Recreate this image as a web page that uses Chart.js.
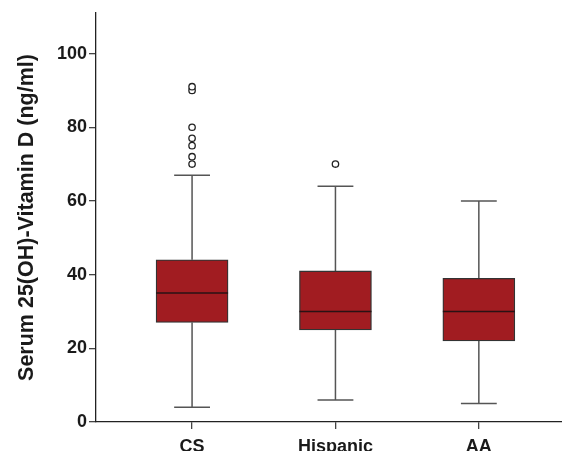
<!DOCTYPE html>
<html>
<head>
<meta charset="utf-8">
<script src="https://cdn.jsdelivr.net/npm/chart.js@4/dist/chart.umd.min.js"></script>
<style>
  html, body { margin: 0; padding: 0; background: #fff; overflow: hidden; }
  #box { display: block; }
</style>
</head>
<body>
<canvas id="box" width="562" height="451"></canvas>
<script>
/* ---------- data (ng/ml) ---------- */
var groups   = ['CS', 'Hispanic', 'AA'];
var whiskLo  = [4, 6, 5];
var q1       = [27, 25, 22];
var medians  = [35, 30, 30];
var q3       = [44, 41, 39];
var whiskHi  = [67, 64, 60];
var outliers = [
  [70, 72, 75, 77, 80, 90, 91],
  [70],
  []
];
var yTicks = [0, 20, 40, 60, 80, 100];

var BOX_FILL = '#a11c21';
var FONT = "'Liberation Sans', Arial, sans-serif";

/* groups sit at x = 1, 2, 3 on a linear axis */
var boxData = groups.map(function (g, i) { return { x: i + 1, y: [q1[i], q3[i]] }; });
var outData = [];
outliers.forEach(function (list, i) {
  list.forEach(function (v) { outData.push({ x: i + 1, y: v }); });
});

/* whiskers behind the boxes, medians on top */
var boxExtras = {
  id: 'boxExtras',
  beforeDatasetsDraw: function (chart) {
    var ctx = chart.ctx, xs = chart.scales.x, ys = chart.scales.y;
    ctx.save();
    ctx.strokeStyle = '#555';
    ctx.lineWidth = 1.5;
    groups.forEach(function (g, i) {
      var cx = xs.getPixelForValue(i + 1);
      var l = xs.getPixelForValue(i + 1 - 0.125), r = xs.getPixelForValue(i + 1 + 0.125);
      var lo = ys.getPixelForValue(whiskLo[i]), hi = ys.getPixelForValue(whiskHi[i]);
      ctx.beginPath();
      ctx.moveTo(cx, lo); ctx.lineTo(cx, ys.getPixelForValue(q1[i]));
      ctx.moveTo(cx, ys.getPixelForValue(q3[i])); ctx.lineTo(cx, hi);
      ctx.moveTo(l, lo); ctx.lineTo(r, lo);
      ctx.moveTo(l, hi); ctx.lineTo(r, hi);
      ctx.stroke();
    });
    ctx.restore();
  },
  afterDatasetsDraw: function (chart) {
    var ctx = chart.ctx, ys = chart.scales.y;
    var meta = chart.getDatasetMeta(0);
    ctx.save();
    ctx.strokeStyle = '#2a1214';
    ctx.lineWidth = 1.5;
    meta.data.forEach(function (bar, i) {
      var y = ys.getPixelForValue(medians[i]);
      ctx.beginPath();
      ctx.moveTo(bar.x - bar.width / 2, y);
      ctx.lineTo(bar.x + bar.width / 2, y);
      ctx.stroke();
    });
    ctx.restore();
  }
};

new Chart(document.getElementById('box'), {
  type: 'bar',
  data: {
    datasets: [{
      label: 'IQR',
      data: boxData,
      backgroundColor: BOX_FILL,
      borderColor: '#333',
      borderWidth: 1.3,
      borderSkipped: false,
      barThickness: 72
    }, {
      type: 'scatter',
      label: 'outliers',
      data: outData,
      pointRadius: 3.2,
      pointBorderWidth: 1.3,
      pointBackgroundColor: '#fff',
      pointBorderColor: '#222'
    }]
  },
  options: {
    responsive: false,
    animation: false,
    devicePixelRatio: 1,
    layout: { autoPadding: false, padding: { top: 13, right: 0, left: 0, bottom: 0 } },
    plugins: { legend: { display: false }, tooltip: { enabled: false } },
    scales: {
      x: {
        type: 'linear',
        min: 0.33, max: 3.58,
        offset: false,
        afterBuildTicks: function (s) { s.ticks = groups.map(function (g, i) { return { value: i + 1 }; }); },
        afterFit: function (s) { s.height = 29; },
        grid: { offset: false, drawOnChartArea: false, tickLength: 7, color: '#444', lineWidth: 1.3 },
        border: { color: '#222', width: 1.3 },
        ticks: {
          padding: 7,
          color: '#1a1a1a',
          font: { family: FONT, size: 18, weight: 'bold' },
          callback: function (v) { return groups[v - 1] || ''; }
        }
      },
      y: {
        min: 0, max: 111,
        afterBuildTicks: function (s) { s.ticks = yTicks.map(function (v) { return { value: v }; }); },
        afterFit: function (s) { s.width = 96; },
        grid: { drawOnChartArea: false, tickLength: 7, color: '#444', lineWidth: 1.3 },
        border: { color: '#222', width: 1.3 },
        ticks: {
          padding: 2,
          color: '#1a1a1a',
          font: { family: FONT, size: 18, weight: 'bold' }
        },
        title: {
          display: true,
          text: 'Serum 25(OH)-Vitamin D (ng/ml)',
          color: '#1a1a1a',
          padding: { top: 14, bottom: 0 },
          font: { family: FONT, size: 21.5, weight: 'bold' }
        }
      }
    }
  },
  plugins: [boxExtras]
});
</script>
</body>
</html>
